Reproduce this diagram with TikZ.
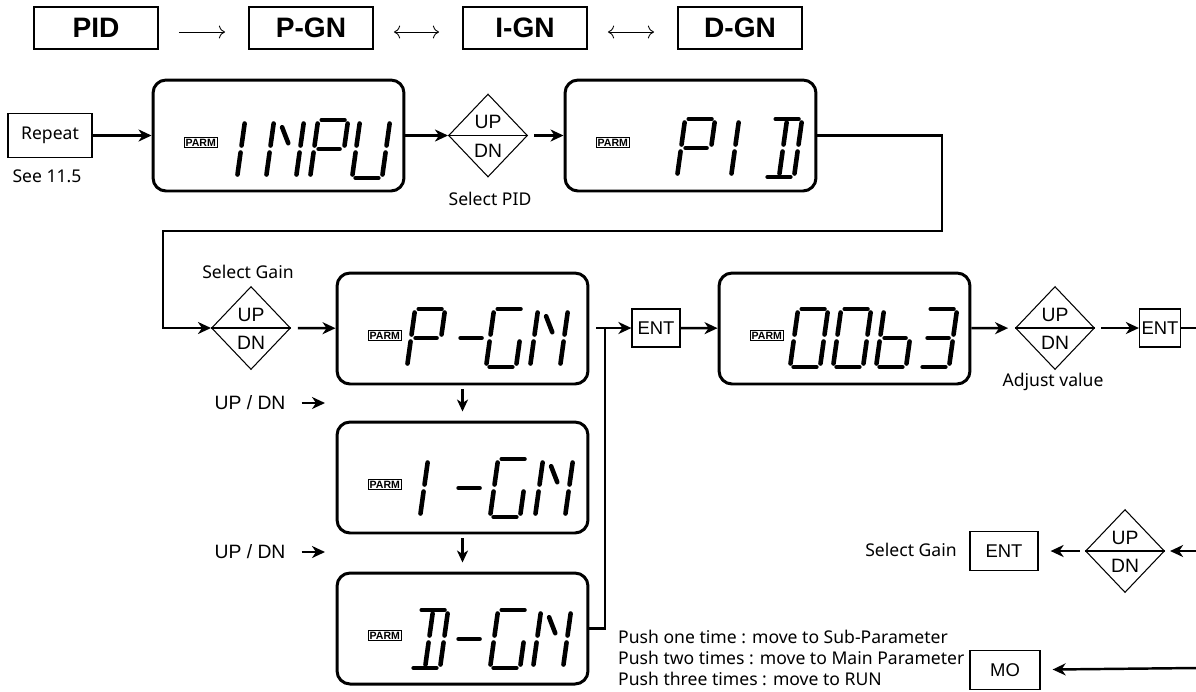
\documentclass[tikz,border=0pt]{standalone}
\usepackage{fontspec}
\setmainfont{Noto Sans}
\newfontfamily\arialfont{Liberation Sans}
\usetikzlibrary{positioning,shapes.geometric,arrows.meta}

% segment lists of the LCD glyphs
\def\lcI{i,j}
\def\lcN{e,f,h,b,c}
\def\lcP{a,b,e,f,g}
\def\lcU{b,c,d,e,f}
\def\lcD{a,b,c,d,i,j}
\def\lcG{a,f,e,d,c}
\def\lcM{g}
\def\lcO{a,b,c,d,e,f}
\def\lcB{f,e,g,c,d}
\def\lcT{a,b,g,c,d}

% one slanted seven-segment character, bottom left at (#1,#2)
\newcommand{\lcdchar}[3]{%
  \edef\seglist{#3}%
  \begin{scope}[shift={(#1,#2)}, x=0.6cm, y=0.58cm, xslant=0.14]
    \foreach \n/\xa/\ya/\xb/\yb in {a/0.12/2/0.88/2, b/1/1.88/1/1.12, c/1/0.88/1/0.12,
        d/0.12/0/0.88/0, e/0/0.88/0/0.12, f/0/1.88/0/1.12, g/0.15/1/0.85/1,
        h/0.3/1.75/0.58/1.2, i/0.5/1.88/0.5/1.12, j/0.5/0.88/0.5/0.12}
      \coordinate (\n1) at (\xa,\ya) coordinate (\n2) at (\xb,\yb);
    \foreach \s in \seglist
      \draw[seg] (\s1) -- (\s2);
  \end{scope}}

\tikzset{
  lcd/.style={draw, line width=1.7pt, rounded corners=0.26cm, minimum width=5.02cm, minimum height=2.22cm},
  seg/.style={line width=2.6pt, line cap=round},
  parm/.style={draw, line width=0.6pt, inner sep=0.9pt, font=\arialfont\bfseries\fontsize{6}{6}\selectfont},
  hdr/.style={draw, line width=1.1pt, minimum width=2.48cm, minimum height=0.84cm, font=\arialfont\bfseries\fontsize{16}{16}\selectfont},
  hdrline/.style={line width=0.5pt, shorten <=0.4cm, shorten >=0.46cm, transform canvas={yshift=-0.08cm}},
  key/.style={draw, line width=0.7pt, inner sep=0pt, minimum height=0.76cm, font=\arialfont\fontsize{10.5}{10.5}\selectfont},
  updn/.style={diamond, draw, line width=0.6pt, inner sep=0pt, minimum width=1.58cm, minimum height=1.66cm},
  flow/.style={line width=1.4pt, -{Stealth[length=0.26cm, width=0.24cm, inset=0.08cm]}},
  flowdown/.style={line width=1.4pt, -{Stealth[length=0.24cm, width=0.22cm, inset=0.07cm]}},
  note/.style={font=\fontsize{10}{12}\selectfont, align=left},
  keytext/.style={font=\arialfont\fontsize{11}{11}\selectfont},
}

\begin{document}
\begin{tikzpicture}[x=0.02cm, y=-0.02cm]
\useasboundingbox (0,0) rectangle (1196,691);

% header line
\node[hdr] (hpid) at (96,28) {PID};
\node[hdr] (hpgn) at (311,28) {P-GN};
\node[hdr] (hign) at (525,28) {I-GN};
\node[hdr] (hdgn) at (740,28) {D-GN};
\draw[hdrline, -{To[length=3.5pt]}] (hpid) -- (hpgn);
\draw[hdrline, {To[length=3.5pt]}-{To[length=3.5pt]}] (hpgn) -- (hign);
\draw[hdrline, {To[length=3.5pt]}-{To[length=3.5pt]}] (hign) -- (hdgn);

% displays
\node[lcd] (inpu) at (278.5,135.5) {};
\node[lcd] (pid) at (690.5,135.5) {};
\node[lcd] (pgn) at (462.5,328.5) {};
\node[lcd] (ign) at (462.5,477.5) {};
\node[lcd] (dgn) at (462.5,628.5) {};
\node[lcd] (val) at (844.5,328.5) {};
\foreach \d in {inpu,pid,pgn,ign,dgn,val}
  \node[parm, right=0.64cm of \d.west, yshift=-0.14cm] {PARM};

\foreach \cx/\gl in {222/\lcI, 266/\lcN, 310/\lcP, 352/\lcU}
  \lcdchar{\cx}{178}{\gl};
\foreach \cx/\gl in {677/\lcP, 716/\lcI, 764/\lcD}
  \lcdchar{\cx}{177}{\gl};
\foreach \cx/\gl in {407/\lcP, 452/\lcM, 486/\lcG, 530/\lcN}
  \lcdchar{\cx}{367}{\gl};
\foreach \cx/\gl in {405/\lcI, 450/\lcM, 490/\lcG, 535/\lcN}
  \lcdchar{\cx}{517}{\gl};
\foreach \cx/\gl in {410/\lcD, 450/\lcM, 490/\lcG, 533/\lcN}
  \lcdchar{\cx}{668}{\gl};
\foreach \cx/\gl in {790/\lcO, 833/\lcO, 876/\lcB, 919/\lcT}
  \lcdchar{\cx}{367}{\gl};

% keys
\node[updn] (d1) at (488,135.5) {};
\node[updn] (d2) at (251,328) {};
\node[updn] (d3) at (1055,328) {};
\node[updn] (d4) at (1125,551) {};
\foreach \d in {d1,d2,d3,d4} {
  \draw[line width=0.6pt] (\d.west) -- (\d.east);
  \node[keytext] at ([yshift=0.27cm]\d.center) {UP};
  \node[keytext] at ([yshift=-0.3cm]\d.center) {DN};
}
\node[key, minimum width=0.96cm] (ent1) at (656,328) {ENT};
\node[key, minimum width=0.82cm] (ent2) at (1160,328) {ENT};
\node[key, minimum width=1.36cm, minimum height=0.78cm] (ent3) at (1004,551) {ENT};
\node[key, minimum width=1.4cm, minimum height=0.78cm] (mo) at (1005,670) {MO};
\node[draw, line width=0.8pt, minimum width=1.68cm, minimum height=0.88cm, note] (rep) at (50,135.5) {Repeat};

% texts
\node[note] (see) at (47,176) {See 11.5};
\node[note] (selpid) at (490,199) {Select PID};
\node[note] (selgain) at (248,272) {Select Gain};
\node[note] (adjust) at (1053,382) {Adjust value};
\node[note] (selgain2) at (911,550) {Select Gain};
\node[note, anchor=west] (push) at (612,658) {Push one time : move to Sub-Parameter\\Push two times : move to Main Parameter\\Push three times : move to RUN};
\node[keytext] (ud1) at (250,403) {UP / DN};
\node[keytext] (ud2) at (250,552) {UP / DN};

\coordinate (c1) at (942,231);
\coordinate (c2) at (163,231);
\coordinate (tj) at (605,328);
\coordinate (s1) at (596,328);
\coordinate (u1) at (325,403);
\coordinate (u2) at (325,552);
\coordinate (r1) at (1196,328);
\coordinate (r2) at (1196,551);
\coordinate (r3) at (1196,668);

% connectors
\draw[flow] (rep) -- (inpu);
\draw[flow] (inpu) -- (d1);
\draw[flow, shorten <=0.12cm] (d1) -- (pid);
\draw[flow] (pid.east) -| (c1) -- (c2) |- (d2);
\draw[flow, shorten <=0.14cm] (d2) -- (pgn);
\draw[flowdown, shorten <=0.08cm, shorten >=0.18cm] (pgn) -- (ign);
\draw[flowdown, shorten <=0.08cm, shorten >=0.18cm] (ign) -- (dgn);
\draw[flow, shorten <=0.2cm] (ud1) -- (u1);
\draw[flow, shorten <=0.2cm] (ud2) -- (u2);
\draw[line width=1.4pt] (dgn.east) -| (tj);
\draw[flow] (s1) -- (ent1);
\draw[flow] (ent1) -- (val);
\draw[flow, shorten >=0.14cm] (val) -- (d3);
\draw[flow, shorten <=0.12cm] (d3) -- (ent2);
\draw[line width=1.4pt] (ent2) -- (r1);
\draw[flow, shorten >=0.1cm] (r2) -- (d4);
\draw[flow, shorten <=0.1cm, shorten >=0.24cm] (d4) -- (ent3);
\draw[flow, shorten >=0.24cm] (r3) -- (mo);
\end{tikzpicture}
\end{document}
